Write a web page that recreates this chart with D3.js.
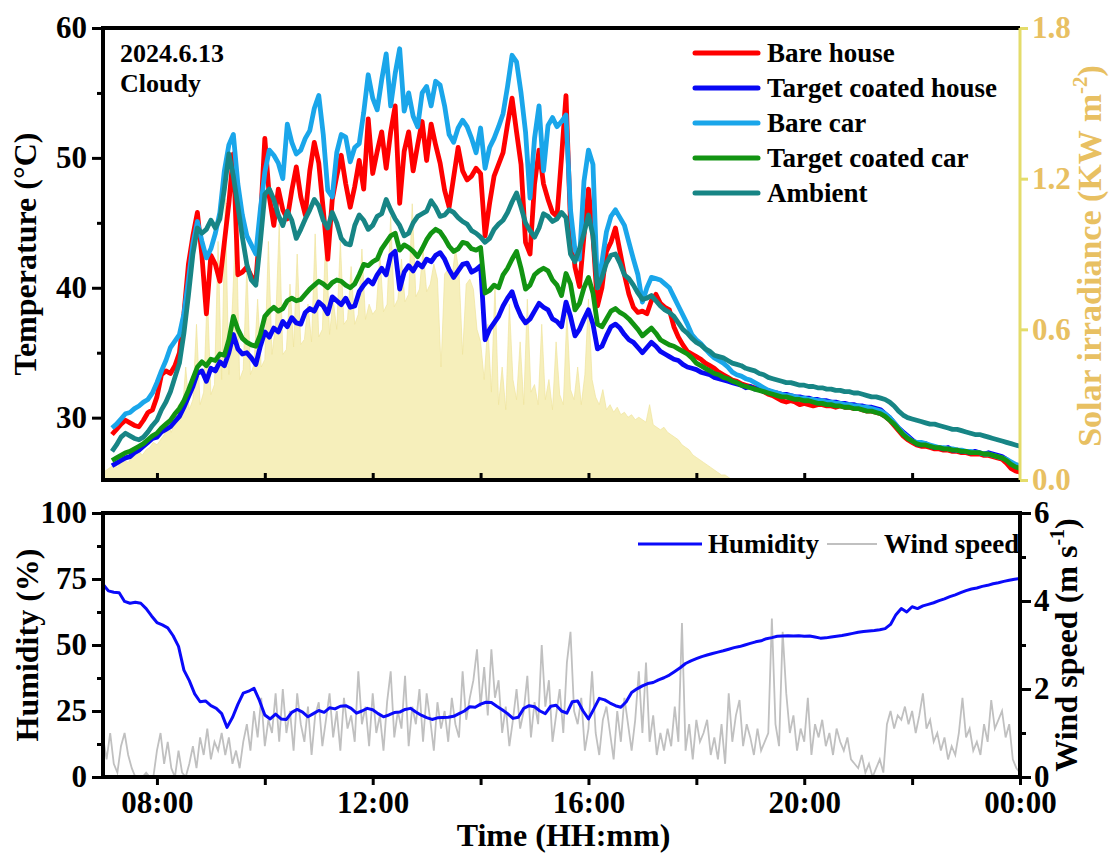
<!DOCTYPE html>
<html>
<head>
<meta charset="utf-8">
<script src="https://cdn.jsdelivr.net/npm/d3@7"></script>
<style>
  body { margin: 0; background: #fff; }
  svg { display: block; }
  text { font-family: "Liberation Serif", "Times New Roman", serif; font-weight: bold; }
</style>
</head>
<body>
<svg id="chart" width="1113" height="858"></svg>
<script>
// ---------------- data ----------------
// Temperatures (°C), logged every 5 min from 07:10 to 24:00
const tempStartHour = 7 + 10 / 60;
const tempStepMin = 5;

const bareHouse = [
  28.7,29.1,29.5,29.8,29.6,29.4,29.3,29.8,30.4,30.6,
  31.6,33.3,33.6,33.4,34.0,35.0,38.0,41.8,44.0,45.8,
  42.5,38.0,42.5,41.8,40.5,43.5,46.5,50.3,41.0,41.2,
  41.6,40.9,40.5,45.0,51.5,47.0,44.8,47.6,46.0,45.3,
  47.5,49.3,47.0,45.6,49.0,51.2,49.6,46.0,42.2,46.8,
  48.6,50.2,48.0,46.2,47.8,49.8,47.6,53.0,48.8,50.5,
  52.0,49.2,52.0,54.0,46.5,50.5,52.0,49.0,51.0,52.8,
  49.8,52.6,51.0,49.6,47.5,46.2,48.5,50.8,49.0,48.3,
  48.6,49.2,48.8,44.0,46.5,48.6,49.5,50.4,52.6,54.6,
  52.0,49.5,43.5,42.6,48.0,50.6,48.0,46.8,45.8,45.5,
  50.0,54.8,45.0,41.6,40.1,44.0,47.6,44.0,38.6,40.0,
  42.8,43.5,44.6,42.8,41.0,39.5,38.5,38.1,38.2,38.0,
  39.0,39.5,38.8,38.5,38.3,37.0,36.2,35.6,35.1,34.9,
  34.7,34.5,34.2,34.0,33.8,33.5,33.3,33.1,32.9,32.8,
  32.6,32.5,32.4,32.3,32.2,32.0,31.8,31.7,31.5,31.3,
  31.2,31.3,31.2,31.0,31.1,31.0,30.9,31.0,31.0,30.9,
  30.9,30.8,30.9,30.8,30.8,30.7,30.7,30.6,30.5,30.5,
  30.4,30.3,30.1,29.8,29.4,29.0,28.6,28.3,28.1,27.9,
  27.8,27.8,27.7,27.6,27.6,27.5,27.5,27.4,27.4,27.3,
  27.3,27.2,27.2,27.2,27.1,27.1,27.0,26.9,26.8,26.5,
  26.1,25.9,25.8
];

const targetCoatedHouse = [
  26.3,26.5,26.7,26.9,27.0,27.3,27.5,27.8,28.1,28.4,
  28.5,28.9,29.1,29.3,29.7,30.1,30.8,31.6,32.4,33.4,
  33.6,32.8,33.8,33.6,34.3,34.0,35.0,36.4,35.3,34.9,
  35.0,34.6,34.1,35.5,36.6,36.2,36.9,36.6,37.4,37.0,
  37.7,37.3,37.2,38.1,38.4,38.2,38.9,38.6,38.0,39.3,
  39.0,38.7,39.2,38.5,38.6,39.7,40.2,40.6,40.3,41.0,
  41.5,41.0,42.5,42.8,39.9,41.2,41.7,41.3,41.9,41.6,
  42.2,42.0,42.5,42.7,42.2,41.4,40.8,41.3,41.8,41.9,
  41.2,41.4,41.7,36.0,36.8,37.3,37.8,38.6,39.2,39.7,
  38.6,37.8,37.3,37.6,38.2,38.8,38.5,38.3,37.6,37.4,
  37.0,38.9,37.8,36.3,36.8,37.6,38.3,37.2,35.3,35.5,
  36.3,37.0,37.2,36.9,36.4,36.0,35.8,35.4,35.0,35.4,
  35.8,35.5,35.1,34.9,34.7,34.5,34.4,34.1,33.9,33.8,
  33.7,33.5,33.4,33.3,33.1,33.0,32.9,32.8,32.7,32.6,
  32.5,32.3,32.4,32.2,32.3,32.0,32.1,31.9,31.9,31.8,
  31.8,31.7,31.6,31.6,31.5,31.5,31.4,31.4,31.3,31.3,
  31.2,31.2,31.1,31.1,31.0,31.0,30.9,30.9,30.8,30.8,
  30.7,30.6,30.3,30.0,29.6,29.2,28.9,28.6,28.3,28.0,
  27.9,28.0,27.8,27.7,27.7,27.6,27.7,27.5,27.5,27.4,
  27.4,27.3,27.4,27.3,27.2,27.3,27.2,27.1,27.0,26.8,
  26.5,26.3,26.2
];

const bareCar = [
  29.2,29.5,29.9,30.3,30.4,30.7,30.9,31.2,31.4,31.9,
  32.7,33.6,34.4,35.4,35.9,36.4,38.0,40.6,43.4,45.1,
  43.6,42.3,43.0,44.2,45.8,49.0,51.0,51.8,48.0,45.6,
  44.0,43.3,42.6,46.0,48.9,50.6,50.2,49.6,48.4,52.6,
  51.2,50.3,50.6,51.5,52.1,53.8,54.8,51.8,47.5,47.0,
  50.4,51.8,51.6,49.7,50.8,51.1,53.5,56.4,54.6,53.7,
  56.0,58.0,54.0,56.5,58.4,53.6,55.0,53.2,52.4,55.0,
  55.5,54.0,55.9,55.6,54.0,51.8,51.2,52.3,52.9,52.4,
  51.5,50.4,52.3,49.2,50.8,51.5,52.4,53.4,55.5,57.9,
  57.4,55.0,52.0,46.9,51.5,54.0,49.0,52.5,53.1,52.4,
  52.8,53.3,46.0,42.9,42.2,48.2,50.6,49.5,40.0,42.0,
  44.3,45.5,46.0,45.4,44.8,43.5,42.2,41.0,38.9,40.0,
  40.8,40.7,40.6,40.3,40.0,39.3,38.6,37.9,37.2,36.4,
  36.0,35.7,35.3,34.9,34.6,34.4,34.2,33.9,33.5,33.3,
  33.2,33.0,32.9,32.7,32.5,32.3,32.1,32.0,31.9,31.8,
  31.7,31.7,31.6,31.5,31.5,31.4,31.4,31.3,31.3,31.2,
  31.2,31.1,31.1,31.0,31.0,30.9,30.9,30.8,30.8,30.7,
  30.6,30.5,30.3,30.0,29.6,29.2,28.8,28.5,28.2,28.1,
  28.1,28.0,27.9,27.8,27.7,27.7,27.6,27.6,27.5,27.5,
  27.4,27.4,27.3,27.3,27.2,27.2,27.1,27.0,26.9,26.8,
  26.6,26.4,26.3
];

const targetCoatedCar = [
  26.7,26.9,27.1,27.3,27.4,27.6,27.8,28.0,28.3,28.6,
  28.8,29.2,29.5,29.8,30.3,30.7,31.3,32.1,33.0,33.9,
  34.3,34.0,34.5,34.4,34.9,34.8,36.0,37.8,36.8,36.1,
  35.8,35.6,35.5,36.4,37.8,38.2,38.5,38.2,38.4,39.0,
  39.2,39.0,39.1,39.5,39.9,40.2,40.5,40.3,40.0,40.4,
  40.6,40.5,40.2,40.0,40.3,41.0,41.8,41.7,42.0,42.2,
  43.0,43.5,44.0,44.2,42.9,43.3,43.1,42.8,42.4,43.0,
  43.7,44.2,44.5,44.3,43.8,43.2,42.8,43.0,43.5,43.4,
  43.0,42.9,43.1,39.6,39.8,40.2,40.0,41.0,41.5,42.2,
  42.8,41.5,39.9,40.2,41.0,41.3,41.5,41.3,40.6,40.2,
  39.4,41.1,40.3,38.3,38.8,40.0,40.8,39.6,37.2,37.0,
  37.6,38.2,38.4,38.1,37.9,37.6,37.2,36.8,36.3,36.6,
  36.9,36.5,36.0,35.8,35.6,35.5,35.3,35.1,34.9,34.6,
  34.2,34.0,33.8,33.6,33.4,33.3,33.1,33.0,32.8,32.7,
  32.5,32.4,32.3,32.2,32.1,32.0,31.9,31.8,31.7,31.6,
  31.6,31.5,31.4,31.4,31.3,31.3,31.2,31.1,31.1,31.0,
  31.0,30.9,30.9,30.8,30.8,30.7,30.7,30.6,30.5,30.5,
  30.4,30.3,30.1,29.8,29.5,29.1,28.7,28.4,28.2,28.0,
  27.9,27.9,27.8,27.7,27.7,27.6,27.6,27.5,27.5,27.4,
  27.4,27.3,27.3,27.3,27.2,27.2,27.1,27.0,26.9,26.7,
  26.4,26.2,26.1
];

const ambient = [
  27.4,27.9,28.5,28.8,28.6,28.4,28.3,28.5,28.9,29.4,
  29.8,30.6,31.2,32.0,33.1,34.2,36.5,39.4,42.6,44.6,
  44.2,44.5,45.2,44.6,45.3,47.6,50.3,48.6,46.3,43.9,
  41.8,40.6,40.2,43.5,47.2,47.6,46.8,45.6,44.8,45.9,
  45.2,43.8,44.5,45.3,46.0,46.8,46.3,45.2,44.6,45.8,
  45.0,43.8,43.4,43.3,44.8,45.6,45.2,44.5,44.8,45.5,
  45.7,46.8,46.0,45.3,44.8,44.0,44.2,45.0,45.5,45.7,
  45.9,46.7,46.2,45.5,45.6,46.0,45.8,45.4,45.1,44.9,
  44.4,44.2,43.9,43.5,43.8,44.5,44.9,45.2,45.8,46.6,
  47.3,46.2,45.0,44.4,43.9,44.6,45.7,45.5,45.1,45.3,
  45.8,45.4,42.6,42.0,43.0,44.2,45.6,44.0,40.0,40.8,
  41.9,42.5,42.6,41.9,41.0,40.7,40.2,39.6,39.1,39.2,
  39.4,39.0,38.6,38.3,38.1,37.8,37.3,36.8,36.5,36.1,
  35.8,35.6,35.3,35.1,34.8,34.7,34.6,34.4,34.2,34.1,
  34.0,33.8,33.7,33.6,33.4,33.3,33.1,33.0,32.9,32.8,
  32.7,32.7,32.6,32.5,32.5,32.4,32.4,32.3,32.3,32.2,
  32.2,32.1,32.1,32.0,32.0,31.9,31.9,31.8,31.7,31.6,
  31.6,31.5,31.4,31.2,30.9,30.5,30.2,30.0,29.9,29.8,
  29.7,29.6,29.5,29.5,29.4,29.3,29.2,29.1,29.1,29.0,
  28.9,28.8,28.7,28.7,28.6,28.5,28.4,28.3,28.2,28.1,
  28.0,27.9,27.8
];

// Solar irradiance (kW m^-2), every 4 min from 07:00 to 18:40
const solarStepMin = 4;
const solarIrradiance = [
  0.03,0.04,0.05,0.06,0.05,0.07,0.08,0.07,0.09,0.10,0.11,0.10,0.12,0.13,0.15,
  0.14,0.16,0.18,0.22,0.19,0.24,0.30,0.26,0.45,0.28,0.32,0.62,0.30,0.35,0.75,
  0.34,0.38,0.95,0.40,1.12,0.42,0.70,1.05,0.40,0.44,0.85,0.42,0.46,0.72,0.45,
  0.48,0.95,0.50,0.62,1.02,0.50,0.52,0.78,0.53,0.90,0.54,0.56,0.70,0.55,0.98,
  0.57,0.60,1.00,0.58,0.72,0.60,0.95,0.62,0.64,0.85,0.62,0.66,0.92,0.64,0.70,
  0.66,0.68,0.90,0.67,0.70,1.05,0.69,0.72,0.88,0.71,0.74,1.10,0.73,0.76,0.92,
  0.75,0.78,0.86,0.80,0.45,0.82,0.84,0.80,0.92,0.83,0.50,0.78,0.80,0.76,0.60,
  0.55,0.40,0.62,0.35,0.78,0.30,0.45,0.28,0.70,0.40,0.32,0.55,0.30,0.72,0.35,
  0.38,0.30,0.62,0.32,0.40,0.28,0.55,0.34,0.30,0.66,0.36,0.32,0.45,0.30,0.42,
  0.72,0.40,0.33,0.30,0.36,0.28,0.30,0.27,0.29,0.26,0.27,0.25,0.26,0.24,0.25,
  0.24,0.23,0.30,0.22,0.21,0.20,0.21,0.19,0.18,0.17,0.16,0.14,0.13,0.12,0.10,
  0.09,0.08,0.07,0.06,0.05,0.04,0.03,0.02,0.02,0.01,0.00
];

// Relative humidity (%), every 6 min from 07:00 to 24:00
const humidityStepMin = 6;
const humidity = [
  73.0,70.5,70.0,69.8,66.5,65.8,66.2,65.8,63.8,61.0,
  58.5,57.6,56.5,53.5,49.5,40.5,36.5,31.5,28.5,28.8,
  27.0,26.0,24.0,18.8,22.5,27.5,31.8,32.5,33.6,29.0,
  23.5,22.0,23.8,22.0,21.8,24.5,25.6,24.6,22.8,24.0,
  25.2,24.5,26.2,25.8,26.8,27.0,26.0,24.2,25.0,26.0,
  25.5,24.0,22.8,23.5,24.4,24.6,25.6,26.0,24.6,23.4,
  22.5,21.8,22.4,22.5,22.6,23.0,24.0,25.0,26.6,26.4,
  27.6,28.3,28.2,26.8,25.5,24.0,22.2,22.6,26.0,27.0,
  26.6,25.0,24.0,26.8,27.2,25.0,24.2,28.5,28.8,25.0,
  22.0,25.8,29.8,29.2,28.0,27.0,26.4,28.5,32.0,33.4,
  34.5,35.4,35.8,36.8,37.6,38.6,40.0,41.4,43.0,44.0,
  44.8,45.6,46.2,46.8,47.3,47.8,48.4,49.0,49.4,50.0,
  50.6,51.2,51.6,52.4,52.8,53.3,53.4,53.5,53.4,53.5,
  53.3,53.4,53.0,52.6,52.7,53.0,53.3,53.6,54.0,54.4,
  54.8,55.1,55.3,55.5,55.8,56.2,57.8,61.5,63.8,62.5,
  64.5,63.8,64.8,65.4,66.0,66.8,67.5,68.3,69.0,69.8,
  70.6,71.2,71.6,72.2,72.6,73.2,73.6,74.1,74.5,74.9,
  75.2
];

// Wind speed (m s^-1), every 4 min from 07:00 to 24:00
const windStepMin = 4;
const windSpeed = [
  0.9,0.4,1.0,0.3,0.1,0.7,1.0,0.5,0.2,0.0,
  0.0,0.0,0.1,0.0,0.0,0.6,1.0,0.3,0.8,0.2,
  0.0,0.6,0.1,0.0,0.3,0.7,0.2,0.9,0.5,1.1,
  0.4,0.8,0.6,1.0,0.5,0.9,0.3,0.6,0.2,0.8,
  1.2,0.6,1.5,0.9,1.8,0.7,1.3,1.0,1.9,0.8,
  2.0,1.0,1.5,0.6,1.9,1.2,0.8,1.6,0.5,1.4,
  1.7,0.7,1.3,1.9,0.9,1.5,0.6,1.8,1.1,1.4,
  0.8,2.4,1.2,1.6,0.7,1.9,1.0,1.4,0.6,1.7,
  2.4,0.9,1.5,1.1,2.3,0.7,1.6,1.2,2.0,0.8,
  1.9,1.3,0.6,1.7,1.1,1.5,0.8,1.8,1.2,0.9,
  2.4,1.3,1.8,2.2,2.9,1.6,2.5,1.4,2.9,1.8,
  2.2,1.0,1.6,0.7,1.3,2.0,1.1,1.5,2.3,0.9,
  1.7,1.2,3.0,1.6,2.2,0.8,1.4,2.0,1.0,2.6,
  3.3,1.5,1.2,1.8,0.6,1.1,2.4,1.0,0.5,1.3,
  1.6,1.0,0.4,1.5,0.8,1.8,1.2,0.6,1.3,2.4,
  1.0,2.6,0.8,1.4,0.5,1.0,0.6,1.1,0.7,1.6,
  0.8,3.5,0.6,1.2,0.4,1.3,0.8,1.0,1.3,0.5,
  0.9,0.4,1.2,0.3,1.9,0.8,1.4,1.75,0.7,1.2,
  0.9,0.5,1.1,0.6,0.8,1.0,3.6,1.2,0.7,3.3,
  1.9,1.0,1.4,0.6,1.1,0.8,1.8,0.5,1.2,0.9,
  1.3,0.7,1.0,0.5,1.1,0.8,0.6,0.9,0.4,0.3,
  0.2,0.5,0.1,0.3,0.0,0.2,0.4,0.1,1.2,1.5,
  1.1,1.4,1.3,1.6,1.2,1.5,1.0,1.4,1.9,1.1,
  1.3,0.8,1.0,0.6,0.9,0.4,0.7,0.5,1.0,1.8,
  0.9,1.1,0.6,0.8,0.5,1.2,0.8,1.75,1.1,1.3,
  1.5,0.9,1.2,0.4,0.2,0.1
];

// Axis ticks
const tempTicks = [30, 40, 50, 60];
const tempMinorTicks = [35, 45, 55];
const solarTicks = [0, 0.6, 1.2, 1.8];
const humidityTicks = [0, 25, 50, 75, 100];
const humidityMinorTicks = [12.5, 37.5, 62.5, 87.5];
const windTicks = [0, 2, 4, 6];
const windMinorTicks = [1, 3, 5];
const timeTickHours = [8, 12, 16, 20, 24];
const timeTickLabels = ["08:00", "12:00", "16:00", "20:00", "00:00"];
const timeMinorHours = [10, 14, 18, 22];

// ---------------- layout ----------------
const svg = d3.select("#chart");
const L = 103, R = 1020;
const T1 = 28, B1 = 480;     // temperature panel
const T2 = 513, B2 = 777;    // humidity panel

const FONT = '"Liberation Serif", "Times New Roman", serif';
const TICK_FS = 31, TITLE_FS = 32, LEGEND_FS = 27;
const SOLAR_AXIS = "#e4dc6a", SOLAR_TEXT = "#e8c062", SOLAR_FILL = "#f6efbb";

const x = d3.scaleLinear().domain([7, 24]).range([L, R]);
const yT = d3.scaleLinear().domain([25.2, 60]).range([B1, T1]);
const yS = d3.scaleLinear().domain([0, 1.8]).range([B1, T1]);
const yH = d3.scaleLinear().domain([0, 100]).range([B2, T2]);
const yW = d3.scaleLinear().domain([0, 6]).range([B2, T2]);

const defs = svg.append("defs");
defs.append("clipPath").attr("id", "clipTop")
  .append("rect").attr("x", L).attr("y", T1).attr("width", R - L).attr("height", B1 - T1);
defs.append("clipPath").attr("id", "clipBot")
  .append("rect").attr("x", L).attr("y", T2).attr("width", R - L).attr("height", B2 - T2);

// ---------------- top panel: solar irradiance + temperatures ----------------
const topPlot = svg.append("g").attr("clip-path", "url(#clipTop)");

const solarArea = d3.area()
  .x((d, i) => x(7 + i * solarStepMin / 60))
  .y0(yS(0))
  .y1(d => yS(d));
topPlot.append("path")
  .datum(solarIrradiance)
  .attr("d", solarArea)
  .attr("fill", SOLAR_FILL)
  .attr("stroke", "#efe49c")
  .attr("stroke-width", 0.7);

const tempSeries = [
  { name: "Bare house", values: bareHouse, color: "#ff0000" },
  { name: "Target coated house", values: targetCoatedHouse, color: "#0808f4" },
  { name: "Bare car", values: bareCar, color: "#1aa6ea" },
  { name: "Target coated car", values: targetCoatedCar, color: "#129412" },
  { name: "Ambient", values: ambient, color: "#178585" }
];

const tempLine = d3.line()
  .x((d, i) => x(tempStartHour + i * tempStepMin / 60))
  .y(d => yT(d));

tempSeries.forEach(s => {
  topPlot.append("path")
    .datum(s.values)
    .attr("d", tempLine)
    .attr("fill", "none")
    .attr("stroke", s.color)
    .attr("stroke-width", 4.8)
    .attr("stroke-linejoin", "round");
});

// axes of the top panel
function styleTicks(g, color, fs) {
  g.select(".domain").remove();
  g.selectAll(".tick line").attr("stroke", color).attr("stroke-width", 3);
  g.selectAll(".tick text")
    .attr("fill", color)
    .attr("font-size", fs)
    .attr("font-family", FONT)
    .attr("font-weight", "bold");
}

svg.append("g").attr("transform", `translate(${L},0)`)
  .call(d3.axisLeft(yT).tickValues(tempTicks).tickSize(11).tickPadding(5).tickSizeOuter(0))
  .call(g => styleTicks(g, "#000", TICK_FS));
svg.append("g").attr("transform", `translate(${L},0)`)
  .call(d3.axisLeft(yT).tickValues(tempMinorTicks).tickSize(6).tickFormat("").tickSizeOuter(0))
  .call(g => styleTicks(g, "#000", TICK_FS));

svg.append("g").attr("transform", `translate(0,${B1})`)
  .call(d3.axisTop(x).tickValues(timeTickHours.concat(timeMinorHours).filter(h => h < 24)).tickSize(7).tickFormat("").tickSizeOuter(0))
  .call(g => styleTicks(g, "#000", TICK_FS));

svg.append("g").attr("transform", `translate(${R},0)`)
  .call(d3.axisRight(yS).tickValues(solarTicks).tickSize(8).tickPadding(4).tickFormat(d3.format(".1f")).tickSizeOuter(0))
  .call(g => styleTicks(g, SOLAR_TEXT, TICK_FS))
  .call(g => g.selectAll(".tick line").attr("stroke", SOLAR_AXIS));

// frame of the top panel
const frame = svg.append("g").attr("stroke-linecap", "square");
frame.append("line").attr("x1", L).attr("x2", R - 2).attr("y1", T1).attr("y2", T1).attr("stroke", "#000").attr("stroke-width", 4);
frame.append("line").attr("x1", L).attr("x2", R - 2).attr("y1", B1).attr("y2", B1).attr("stroke", "#000").attr("stroke-width", 4);
frame.append("line").attr("x1", L).attr("x2", L).attr("y1", T1).attr("y2", B1).attr("stroke", "#000").attr("stroke-width", 4);
frame.append("line").attr("x1", R).attr("x2", R).attr("y1", T1).attr("y2", B1).attr("stroke", SOLAR_AXIS).attr("stroke-width", 3).attr("stroke-linecap", "butt");

// titles of the top panel
svg.append("text")
  .attr("transform", `translate(36,${(T1 + B1) / 2}) rotate(-90)`)
  .attr("text-anchor", "middle")
  .attr("font-size", TITLE_FS)
  .text("Temperature (°C)");

const solarTitle = svg.append("text")
  .attr("transform", `translate(1101,${(T1 + B1) / 2 + 2}) rotate(-90)`)
  .attr("text-anchor", "middle")
  .attr("font-size", 34)
  .attr("fill", SOLAR_TEXT);
solarTitle.append("tspan").text("Solar irradiance (KW m");
solarTitle.append("tspan").attr("dy", -14).attr("font-size", 21).text("-2");
solarTitle.append("tspan").attr("dy", 14).text(")");

// date / weather note
svg.append("text").attr("x", 120).attr("y", 62).attr("font-size", 26).text("2024.6.13");
svg.append("text").attr("x", 120).attr("y", 92).attr("font-size", 26).text("Cloudy");

// legend of the top panel
const legTop = svg.append("g");
tempSeries.forEach((s, k) => {
  const yy = 53 + k * 35;
  legTop.append("line")
    .attr("x1", 695).attr("x2", 758).attr("y1", yy).attr("y2", yy)
    .attr("stroke", s.color).attr("stroke-width", 5).attr("stroke-linecap", "round");
  legTop.append("text")
    .attr("x", 767).attr("y", yy).attr("dy", "0.34em")
    .attr("font-size", LEGEND_FS)
    .text(s.name);
});

// ---------------- bottom panel: humidity + wind speed ----------------
const botPlot = svg.append("g").attr("clip-path", "url(#clipBot)");

const windLine = d3.line()
  .x((d, i) => x(7 + i * windStepMin / 60))
  .y(d => yW(d));
botPlot.append("path")
  .datum(windSpeed)
  .attr("d", windLine)
  .attr("fill", "none")
  .attr("stroke", "#c0c0c0")
  .attr("stroke-width", 1.8);

const humLine = d3.line()
  .x((d, i) => x(7 + i * humidityStepMin / 60))
  .y(d => yH(d));
botPlot.append("path")
  .datum(humidity)
  .attr("d", humLine)
  .attr("fill", "none")
  .attr("stroke", "#0a0afa")
  .attr("stroke-width", 3)
  .attr("stroke-linejoin", "round");

svg.append("g").attr("transform", `translate(${L},0)`)
  .call(d3.axisLeft(yH).tickValues(humidityTicks).tickSize(11).tickPadding(5).tickSizeOuter(0))
  .call(g => styleTicks(g, "#000", TICK_FS));
svg.append("g").attr("transform", `translate(${L},0)`)
  .call(d3.axisLeft(yH).tickValues(humidityMinorTicks).tickSize(6).tickFormat("").tickSizeOuter(0))
  .call(g => styleTicks(g, "#000", TICK_FS));

svg.append("g").attr("transform", `translate(${R},0)`)
  .call(d3.axisRight(yW).tickValues(windTicks).tickSize(11).tickPadding(3).tickFormat(d3.format("d")).tickSizeOuter(0))
  .call(g => styleTicks(g, "#000", TICK_FS));
svg.append("g").attr("transform", `translate(${R},0)`)
  .call(d3.axisRight(yW).tickValues(windMinorTicks).tickSize(6).tickFormat("").tickSizeOuter(0))
  .call(g => styleTicks(g, "#000", TICK_FS));

svg.append("g").attr("transform", `translate(0,${B2})`)
  .call(d3.axisBottom(x).tickValues(timeTickHours).tickSize(8).tickPadding(6)
    .tickFormat((d, i) => timeTickLabels[i]).tickSizeOuter(0))
  .call(g => styleTicks(g, "#000", TICK_FS));
svg.append("g").attr("transform", `translate(0,${B2})`)
  .call(d3.axisBottom(x).tickValues(timeMinorHours).tickSize(8).tickFormat("").tickSizeOuter(0))
  .call(g => styleTicks(g, "#000", TICK_FS));

svg.append("rect")
  .attr("x", L).attr("y", T2).attr("width", R - L).attr("height", B2 - T2)
  .attr("fill", "none").attr("stroke", "#000").attr("stroke-width", 4);

// titles of the bottom panel
svg.append("text")
  .attr("transform", `translate(38,${(T2 + B2) / 2}) rotate(-90)`)
  .attr("text-anchor", "middle")
  .attr("font-size", TITLE_FS)
  .text("Humidity (%)");

const windTitle = svg.append("text")
  .attr("transform", `translate(1077,${(T2 + B2) / 2}) rotate(-90)`)
  .attr("text-anchor", "middle")
  .attr("font-size", TITLE_FS);
windTitle.append("tspan").text("Wind speed (m s");
windTitle.append("tspan").attr("dy", -13).attr("font-size", 20).text("-1");
windTitle.append("tspan").attr("dy", 13).text(")");

svg.append("text")
  .attr("x", (L + R) / 2 + 2).attr("y", 846)
  .attr("text-anchor", "middle")
  .attr("font-size", TITLE_FS)
  .text("Time (HH:mm)");

// legend of the bottom panel
const legBot = svg.append("g");
legBot.append("line").attr("x1", 638).attr("x2", 702).attr("y1", 544).attr("y2", 544)
  .attr("stroke", "#0a0afa").attr("stroke-width", 3);
legBot.append("text").attr("x", 708).attr("y", 544).attr("dy", "0.34em")
  .attr("font-size", LEGEND_FS).text("Humidity");
legBot.append("line").attr("x1", 827).attr("x2", 877).attr("y1", 544).attr("y2", 544)
  .attr("stroke", "#c0c0c0").attr("stroke-width", 2);
legBot.append("text").attr("x", 884).attr("y", 544).attr("dy", "0.34em")
  .attr("font-size", LEGEND_FS).text("Wind speed");
</script>
</body>
</html>
